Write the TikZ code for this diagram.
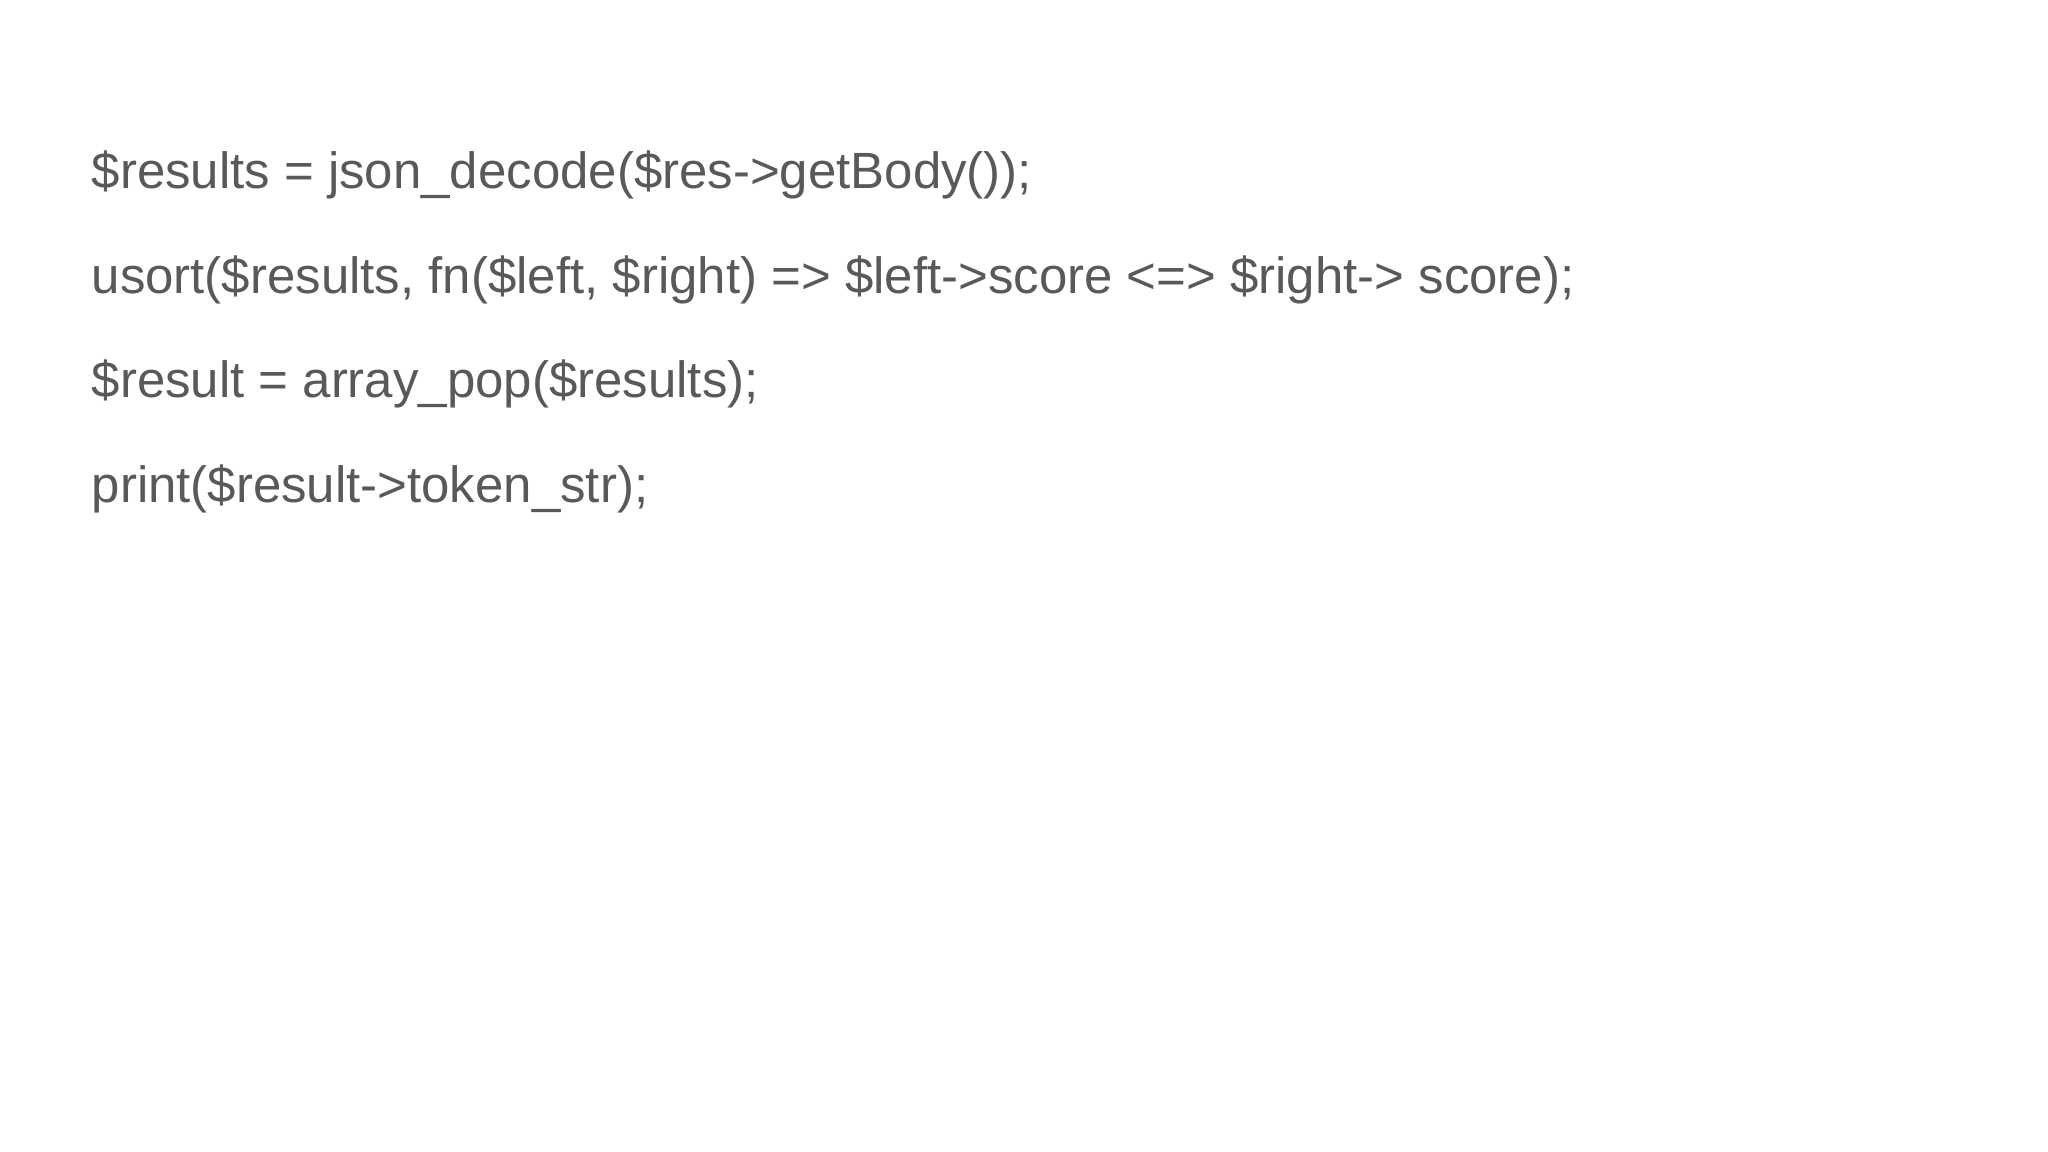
\documentclass[tikz,border=0pt]{standalone}
\usepackage{fontspec}
\setmainfont{Liberation Sans}
\definecolor{codegray}{HTML}{595959}
\begin{document}
\begin{tikzpicture}
\useasboundingbox (0,0) rectangle (20.48,11.52);
\tikzset{codeline/.style={anchor=base west, inner sep=0pt, text=codegray, font=\fontsize{14.5pt}{17pt}\selectfont}}
\node[codeline] (l1) at (0.91,9.63) {\$results = json\_decode(\$res->getBody());};
\node[codeline] (l2) at (0.91,8.58) {usort(\$results, fn(\$left, \$right) => \$left->score <=> \$right-> score);};
\node[codeline] (l3) at (0.91,7.54) {\$result = array\_pop(\$results);};
\node[codeline] (l4) at (0.91,6.49) {print(\$result->token\_str);};
\end{tikzpicture}
\end{document}
